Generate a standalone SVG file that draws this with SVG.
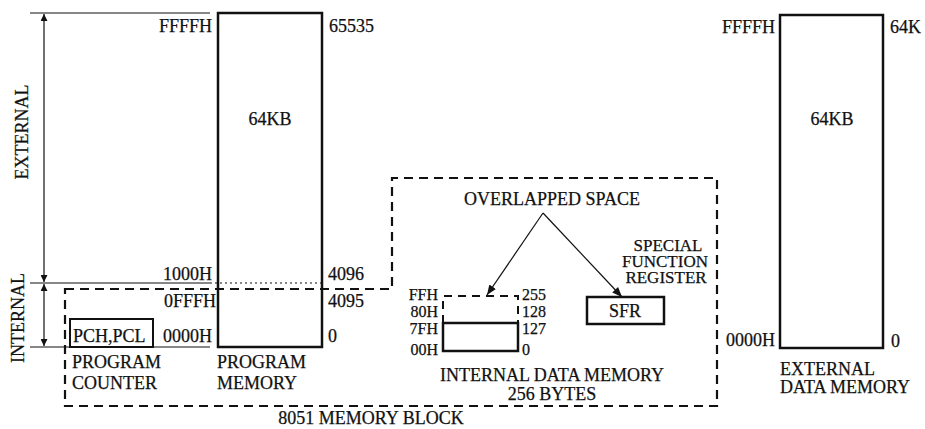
<svg xmlns="http://www.w3.org/2000/svg" width="925" height="429" viewBox="0 0 925 429">
<defs>
<style>
text{font-family:"Liberation Serif","Times New Roman",serif;font-size:18px;fill:#111;stroke:#111;stroke-width:0.25}
.s{font-size:16px}
.t{font-size:17px}
.r{text-anchor:end}
.m{text-anchor:middle}
.box{fill:none;stroke:#111;stroke-width:2.5}
.thin{fill:none;stroke:#111;stroke-width:1.2}
.dash{fill:none;stroke:#111;stroke-width:2.2;stroke-dasharray:9,6}
</style>
<marker id="ah" viewBox="0 0 10 10" refX="10" refY="5" markerWidth="7" markerHeight="7" orient="auto-start-reverse" markerUnits="userSpaceOnUse">
<path d="M0,0 L10,5 L0,10 z" fill="#111"/>
</marker>
<marker id="ah2" viewBox="0 0 10 10" refX="10" refY="5" markerWidth="10" markerHeight="10" orient="auto" markerUnits="userSpaceOnUse">
<path d="M0,1 L10,5 L0,9 z" fill="#111"/>
</marker>
</defs>

<g id="connectors">
<line class="thin" x1="30" y1="13" x2="210" y2="13"/>
<line class="thin" x1="30" y1="283" x2="210" y2="283"/>
<line x1="210" y1="283" x2="322" y2="283" stroke="#111" stroke-width="1.2" stroke-dasharray="2,3"/>
<line class="thin" x1="30" y1="347" x2="210" y2="347"/>
<line class="thin" x1="44" y1="14" x2="44" y2="282" marker-start="url(#ah)" marker-end="url(#ah)"/>
<line class="thin" x1="44" y1="284" x2="44" y2="346" marker-start="url(#ah)" marker-end="url(#ah)"/>
<line class="thin" x1="543" y1="213" x2="487" y2="295" marker-end="url(#ah2)"/>
<line class="thin" x1="543" y1="213" x2="622" y2="297" marker-end="url(#ah2)"/>
</g>

<g id="memory-block">
<path class="dash" d="M65,289 L392,289 L392,178 L717,178 L717,406 L65,406 Z"/>
<text x="371" y="424" class="m">8051 MEMORY BLOCK</text>
</g>

<g id="axis-labels">
<text transform="translate(28,132) rotate(-90)" class="m">EXTERNAL</text>
<text transform="translate(24,318) rotate(-90)" class="m">INTERNAL</text>
</g>

<g id="program-memory">
<rect class="box" x="218" y="13" width="104" height="334"/>
<text x="270" y="125" class="m">64KB</text>
<text x="212" y="32" class="r">FFFFH</text>
<text x="329" y="32">65535</text>
<text x="212" y="280" class="r">1000H</text>
<text x="328" y="280">4096</text>
<text x="216" y="307" class="r">0FFFH</text>
<text x="328" y="307">4095</text>
<text x="212" y="342" class="r">0000H</text>
<text x="328" y="342">0</text>
<text x="217" y="368">PROGRAM</text>
<text x="217" y="389">MEMORY</text>
</g>

<g id="program-counter">
<rect x="70" y="319" width="83" height="28" fill="none" stroke="#111" stroke-width="2"/>
<text x="73" y="342">PCH,PCL</text>
<text x="72" y="368">PROGRAM</text>
<text x="72" y="389">COUNTER</text>
</g>

<g id="overlapped-space">
<text x="552" y="205" class="m">OVERLAPPED SPACE</text>
</g>

<g id="internal-data-memory">
<path d="M443,323 L443,296 L518,296 L518,323" fill="none" stroke="#111" stroke-width="2" stroke-dasharray="8,6"/>
<rect class="box" x="443" y="323" width="75" height="28"/>
<text x="438" y="300" class="r s">FFH</text>
<text x="438" y="317" class="r s">80H</text>
<text x="438" y="334" class="r s">7FH</text>
<text x="438" y="355" class="r s">00H</text>
<text x="522" y="300" class="s">255</text>
<text x="522" y="317" class="s">128</text>
<text x="522" y="334" class="s">127</text>
<text x="522" y="355" class="s">0</text>
<text x="552" y="381" class="m">INTERNAL DATA MEMORY</text>
<text x="552" y="400" class="m">256 BYTES</text>
</g>

<g id="sfr">
<rect class="box" x="587" y="297" width="77" height="27"/>
<text x="625" y="317" class="m">SFR</text>
<text x="668" y="251" class="m t">SPECIAL</text>
<text x="665" y="267" class="m t">FUNCTION</text>
<text x="666" y="283" class="m t">REGISTER</text>
</g>

<g id="external-data-memory">
<rect class="box" x="780" y="15" width="103" height="333"/>
<text x="832" y="125" class="m">64KB</text>
<text x="775" y="33" class="r">FFFFH</text>
<text x="890" y="33">64K</text>
<text x="775" y="346" class="r">0000H</text>
<text x="891" y="347">0</text>
<text x="780" y="375">EXTERNAL</text>
<text x="780" y="393">DATA MEMORY</text>
</g>
</svg>
